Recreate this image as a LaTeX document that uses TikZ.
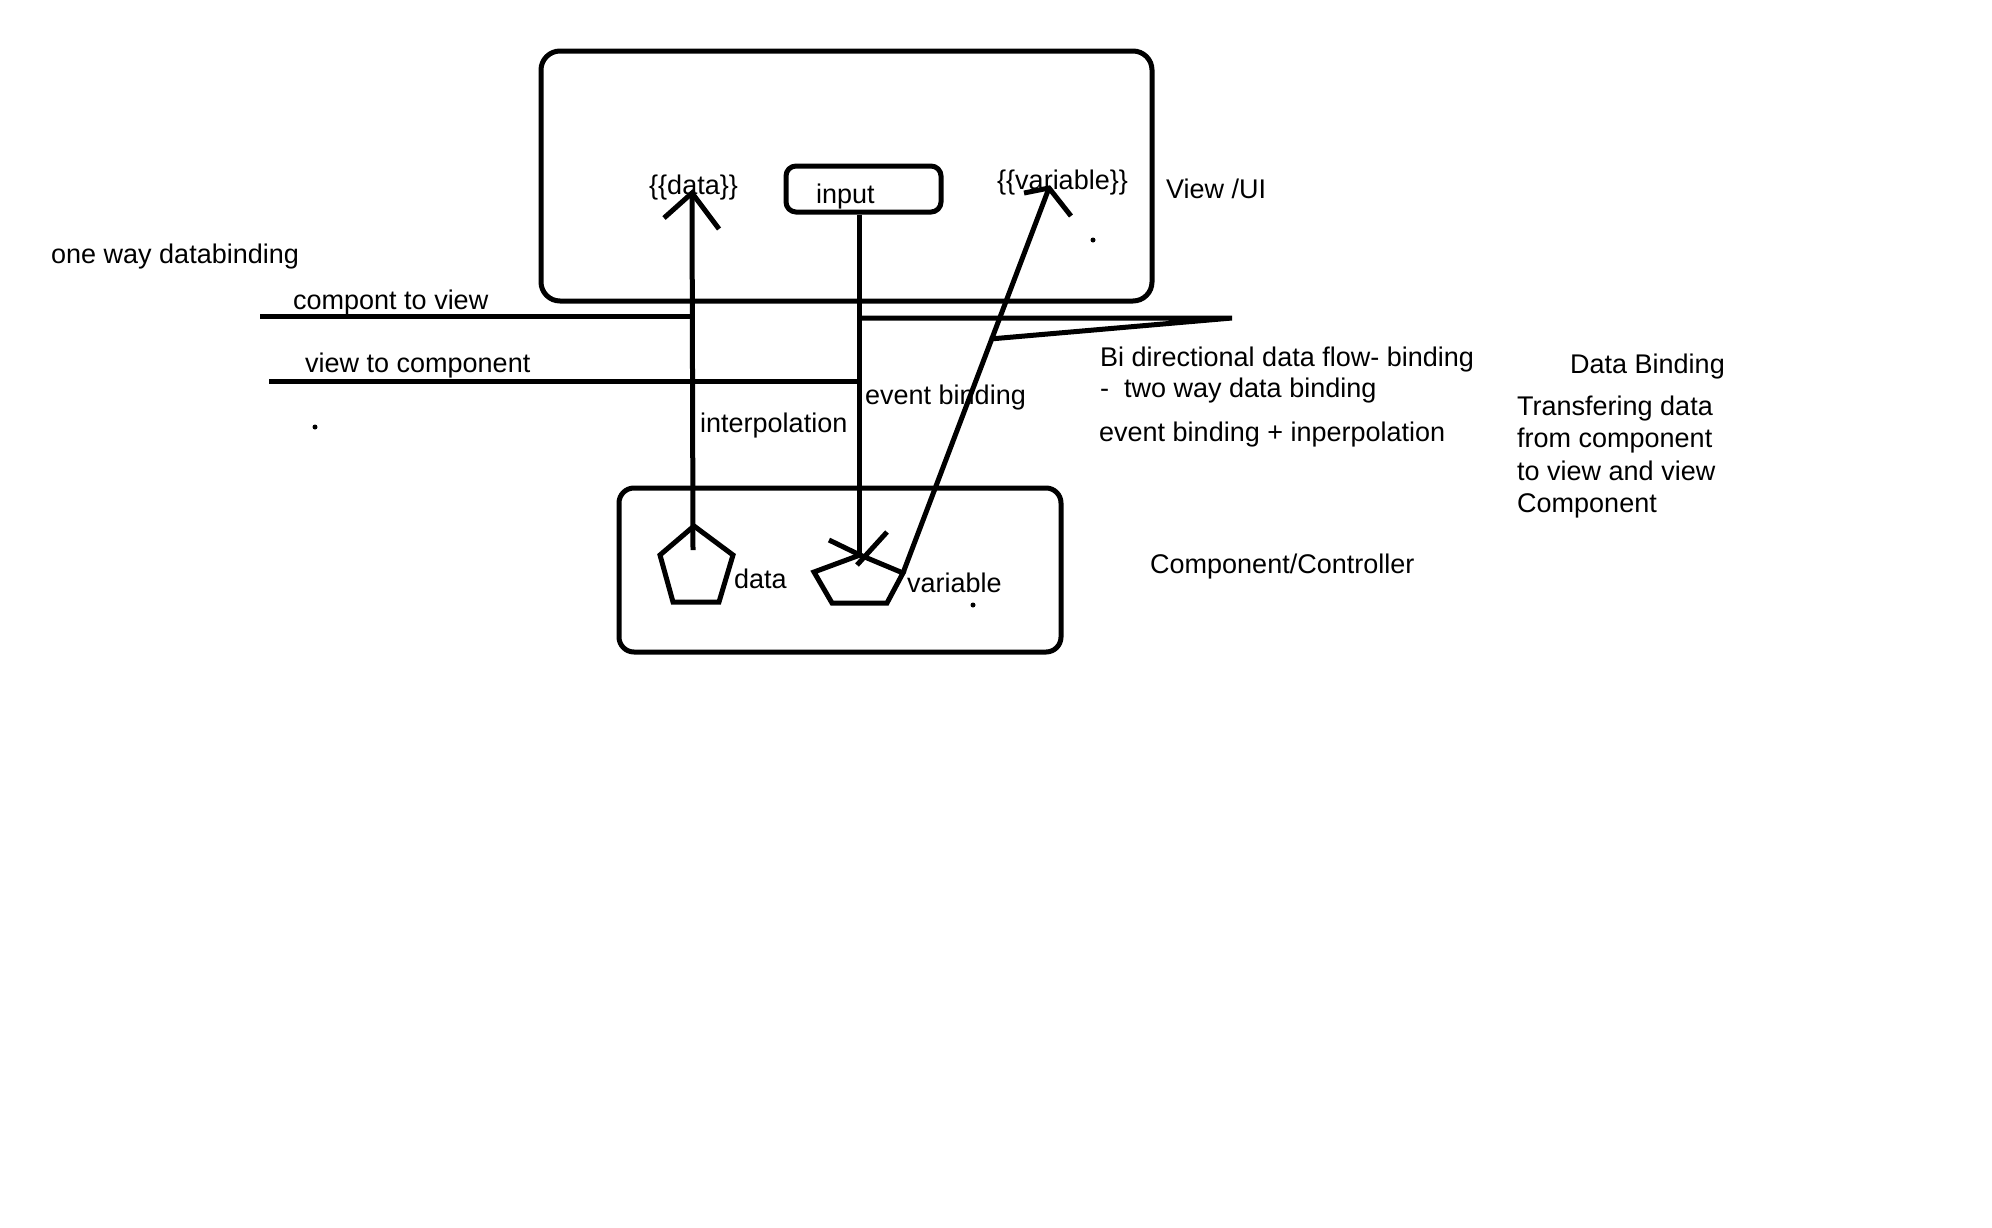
\documentclass[tikz,border=0pt]{standalone}
\usepackage{fontspec}
\setmainfont{Liberation Sans}
\begin{document}
\begin{tikzpicture}[x=1pt,y=-1pt,
  stroke/.style={line width=5pt},
  lbl/.style={inner sep=0pt, anchor=base west, yshift=-1.5pt, font=\fontsize{27}{32}\selectfont},
  panel/.style={draw, line width=5pt, inner sep=0pt},
  dot/.style={fill, circle, inner sep=0pt, minimum size=5pt}
]
\useasboundingbox (0,0) rectangle (1992,1227);

% view and component panels
\node[panel, rounded corners=19pt, minimum width=611pt, minimum height=250pt] (view) at (846.5,176) {};
\node[panel, rounded corners=15pt, minimum width=442pt, minimum height=164pt] (comp) at (840,570) {};
\node[panel, rounded corners=10pt, minimum width=155pt, minimum height=46pt] (input) at (863.5,189) {};

% texts inside the view
\node[lbl] (tdata) at (649,193) {\{\{data\}\}};
\node[lbl] (tinput) at (816,202) {input};
\node[lbl] (tvar) at (997,188) {\{\{variable\}\}};
\node[lbl] (tview) at (1166,197) {View /UI};

% component members (pentagons)
\coordinate (dp1) at (694,526);
\coordinate (dp2) at (733,555);
\coordinate (dp3) at (719,602);
\coordinate (dp4) at (673,602);
\coordinate (dp5) at (660,555);
\draw[stroke] (dp1) -- (dp2) -- (dp3) -- (dp4) -- (dp5) -- cycle;
\coordinate (vp1) at (860,555);
\coordinate (vp2) at (903,573);
\coordinate (vp3) at (887,603);
\coordinate (vp4) at (832,603);
\coordinate (vp5) at (814,572);
\draw[stroke] (vp1) -- (vp2) -- (vp3) -- (vp4) -- (vp5) -- cycle;
\node[lbl] (tdatam) at (734,587) {data};
\node[lbl] (tvarm) at (907,591) {variable};

% interpolation: data -> {{data}}
\coordinate (dstart) at (693,550);
\coordinate (dtip) at (692,193);
\coordinate (dbl) at (664,218);
\coordinate (dbr) at (719,229);
\draw[stroke] (dstart) -- (dtip);
\draw[stroke] (dbl) -- (dtip) -- (dbr);

% event binding: input -> variable
\coordinate (itip) at (859,557);
\coordinate (ibl) at (829,540);
\coordinate (ibr) at (887,532);
\coordinate (ibe) at (857,565);
\draw[stroke] (input.south -| itip) -- (itip);
\draw[stroke] (ibl) -- (vp1);
\draw[stroke] (ibr) -- (ibe);

% two way binding: variable -> {{variable}}
\coordinate (vtip) at (1049,188);
\coordinate (vbl) at (1024,193);
\coordinate (vbr) at (1071,216);
\draw[stroke] (vp2) -- (vtip);
\draw[stroke] (vbl) -- (vtip) -- (vbr);

% direction markers
\coordinate (c2vl) at (260,316);
\draw[stroke] (c2vl) -- (c2vl -| dtip);
\coordinate (v2cl) at (269,381);
\draw[stroke] (v2cl) -- (v2cl -| itip);
\coordinate (bir) at (1232,318);
\coordinate (bil) at (990,339);
\draw[stroke] (bir -| itip) -- (bir) -- (bil);

% labels
\node[lbl] (tone) at (51,262) {one way databinding};
\node[lbl] (tc2v) at (293,308) {compont to view};
\node[lbl] (tv2c) at (305,371) {view to component};
\node[lbl] (tinterp) at (700,431) {interpolation};
\node[lbl] (tevent) at (865,403) {event binding};
\node[lbl] (tbi1) at (1100,365) {Bi directional data flow- binding};
\node[lbl] (tbi2) at (1100,396) {-\ \ two way data binding};
\node[lbl] (tbi3) at (1099,440) {event binding + inperpolation};
\node[lbl] (tdb) at (1570,372) {Data Binding};
\node[lbl] (tdb1) at (1517,414) {Transfering data};
\node[lbl] (tdb2) at (1517,446) {from component};
\node[lbl] (tdb3) at (1517,479) {to view and view};
\node[lbl] (tdb4) at (1517,511) {Component};
\node[lbl] (tctrl) at (1150,572) {Component/Controller};

% stray dots
\node[dot] (d1) at (1093,240) {};
\node[dot] (d2) at (315,427) {};
\node[dot] (d3) at (973,605) {};
\end{tikzpicture}
\end{document}
